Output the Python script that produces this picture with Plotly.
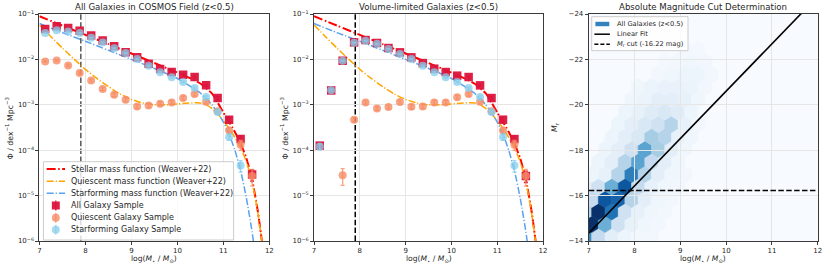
import plotly.graph_objects as go
from plotly.colors import sample_colorscale, sequential

# ---------------------------------------------------------------- data
mass_bins = [7.125, 7.375, 7.625, 7.875, 8.125, 8.375, 8.625, 8.875, 9.125, 9.375,
             9.625, 9.875, 10.125, 10.375, 10.625, 10.875, 11.125, 11.375, 11.625]

# panel 1 : all galaxies in COSMOS (z<0.5)
phi_all_full = [0.0467, 0.0535, 0.0490, 0.0429, 0.0338, 0.0262, 0.0194, 0.0143, 0.0111, 0.00804,
                0.00614, 0.00527, 0.00461, 0.00409, 0.00268, 0.00141, 0.00047, 0.000176, 0.000029]
phi_q_full = [0.00903, 0.0095, 0.00738, 0.0050, 0.00345, 0.00223, 0.00167, 0.00129, 0.00092, 0.00096,
              0.00106, 0.00113, 0.00141, 0.00173, 0.00117, 0.00072, 0.00027, 0.000132, 0.000027]
phi_sf_full = [0.0381, 0.0437, 0.0414, 0.0380, 0.0300, 0.0237, 0.0175, 0.0138, 0.0102, 0.00727,
               0.00519, 0.00402, 0.00318, 0.00234, 0.00148, 0.00069, 0.000195, 0.000046, None]
relerr_all_full = [0.02, 0.02, 0.02, 0.02, 0.02, 0.02, 0.02, 0.02, 0.03, 0.03,
                   0.03, 0.03, 0.04, 0.04, 0.05, 0.07, 0.12, 0.18, 0.28]
relerr_q_full = [0.04, 0.04, 0.05, 0.06, 0.07, 0.08, 0.09, 0.10, 0.10, 0.10,
                 0.10, 0.10, 0.10, 0.10, 0.10, 0.12, 0.18, 0.25, 0.40]
relerr_sf_full = [0.02, 0.02, 0.02, 0.02, 0.02, 0.02, 0.02, 0.03, 0.03, 0.03,
                  0.03, 0.04, 0.04, 0.05, 0.06, 0.08, 0.15, 0.28, None]

# panel 2 : volume-limited sample
phi_all_vol = [0.000126, 0.00207, 0.00935, 0.0237, 0.0267, 0.0230, 0.0178, 0.0143, 0.0111, 0.0083,
               0.00624, 0.00527, 0.00438, 0.00409, 0.00268, 0.00141, 0.00047, 0.000176, 0.000027]
phi_q_vol = [None, None, 0.000028, 0.00047, 0.00113, 0.00083, 0.00089, 0.00115, 0.00091, 0.00092,
             0.00113, 0.00113, 0.00146, 0.00173, 0.00117, 0.00072, 0.00027, 0.000132, 0.000027]
phi_sf_vol = [0.00012, 0.0021, 0.0093, 0.0232, 0.0256, 0.0222, 0.0169, 0.0131, 0.0102, 0.00727,
              0.00519, 0.00402, 0.00318, 0.00234, 0.00148, 0.00069, 0.000195, 0.000046, None]
relerr_all_vol = [0.15, 0.05, 0.03, 0.02, 0.02, 0.02, 0.02, 0.02, 0.03, 0.03,
                  0.03, 0.03, 0.04, 0.04, 0.05, 0.07, 0.12, 0.18, 0.28]
relerr_q_vol = [None, None, 0.40, 0.10, 0.08, 0.09, 0.09, 0.10, 0.10, 0.10,
                0.10, 0.10, 0.10, 0.10, 0.10, 0.12, 0.18, 0.25, 0.40]
relerr_sf_vol = [0.15, 0.05, 0.03, 0.02, 0.02, 0.02, 0.02, 0.03, 0.03, 0.03,
                 0.03, 0.04, 0.04, 0.05, 0.06, 0.08, 0.15, 0.28, None]

# Weaver+22 mass functions (log10 phi)
smf_mass = [7.0, 7.5, 8.0, 8.5, 9.0, 9.5, 10.0, 10.25, 10.5, 10.75, 10.875, 11.0,
            11.125, 11.25, 11.375, 11.5, 11.625, 11.75, 11.85]
smf_logphi = [-1.05, -1.255, -1.46, -1.665, -1.87, -2.08, -2.29, -2.40, -2.53, -2.75, -2.95, -3.17,
              -3.38, -3.60, -3.85, -4.18, -4.65, -5.35, -6.1]
q_mass = [7.0, 7.25, 7.5, 7.75, 8.0, 8.25, 8.5, 8.75, 9.0, 9.25, 9.5, 9.75, 10.0, 10.25, 10.5,
          10.625, 10.75, 10.875, 11.0, 11.125, 11.25, 11.375, 11.5, 11.625, 11.75, 11.85]
q_logphi = [-1.24, -1.50, -1.75, -1.99, -2.22, -2.42, -2.60, -2.76, -2.88, -2.96, -3.0, -3.0, -2.98,
            -2.96, -2.96, -3.0, -3.08, -3.2, -3.35, -3.52, -3.72, -3.95, -4.25, -4.7, -5.38, -6.12]
sf_mass = [7.0, 7.5, 8.0, 8.5, 9.0, 9.5, 10.0, 10.25, 10.5, 10.625, 10.75, 10.875, 11.0,
           11.125, 11.25, 11.375, 11.5, 11.625, 11.68]
sf_logphi = [-1.21, -1.41, -1.60, -1.80, -2.0, -2.2, -2.42, -2.57, -2.74, -2.87, -3.0, -3.18, -3.38,
             -3.65, -4.0, -4.45, -5.05, -5.8, -6.2]

mass_cut = 7.9
mag_cut = -16.22
fit_slope = -2.087          # M_r = fit_intercept + fit_slope * log(M*)
fit_intercept = 0.269
mass_range = [7, 12]
mass_ticks = [7, 8, 9, 10, 11, 12]
phi_exponents = [-6, -5, -4, -3, -2, -1]
mag_ticks = [-24, -22, -20, -18, -16, -14]

# hexbin (panel 3): hex lattice rows, first column index and colour level of each cell
hex_rows = [-2, -1, 0, 1, 2, 3, 4, 5, 6, 7, 8, 9, 10, 11, 12, 13]
hex_first_col = [-1, -1, -1, -1, -1, -1, 0, 0, 1, 1, 2, 2, 3, 4, 5, 6]
hex_levels = [
    [0.65, 0.25, 0.10, 0.05, 0.03, 0.03],
    [1.00, 0.50, 0.20, 0.08, 0.04, 0.03],
    [0.30, 1.00, 0.75, 0.20, 0.08, 0.04, 0.03],
    [0.25, 0.85, 0.80, 0.30, 0.10, 0.04, 0.03],
    [0.10, 0.20, 0.50, 0.85, 0.25, 0.08, 0.04, 0.03],
    [0.05, 0.08, 0.30, 0.70, 0.30, 0.10, 0.04, 0.03],
    [0.05, 0.10, 0.30, 0.55, 0.25, 0.10, 0.04],
    [0.05, 0.10, 0.20, 0.55, 0.35, 0.10, 0.04],
    [0.05, 0.10, 0.15, 0.35, 0.30, 0.08, 0.04],
    [0.05, 0.10, 0.15, 0.20, 0.30, 0.08, 0.03],
    [0.05, 0.08, 0.12, 0.15, 0.12, 0.05],
    [0.04, 0.06, 0.10, 0.10, 0.08, 0.04],
    [0.04, 0.06, 0.07, 0.07, 0.06, 0.03],
    [0.03, 0.04, 0.05, 0.05, 0.03],
    [0.02, 0.03, 0.04, 0.03],
    [0.02, 0.02],
]
hex_dx, hex_row_h = 0.29, 0.55
hex_x0, hex_m0 = 7.21, -15.29

# ---------------------------------------------------------------- style
FIG_W, FIG_H = 830, 268
M_T, M_B = 14, 27
PLOT_H = FIG_H - M_T - M_B
FONT = "DejaVu Sans"
GRID = "#e6e6e6"
SPINE = "#3a3a3a"
TXT = "#262626"
RED, ORANGE, BLUE = "#ff0000", "#ffa500", "#5aa2ee"
SQ_COL = "rgba(220,20,60,0.95)"
Q_COL = "rgba(246,140,100,0.80)"
SF_COL = "rgba(135,206,235,0.75)"
DD_THICK = "9px,2.5px,1.5px,2.5px"
DD_THIN = "7px,2px,1.2px,2px"
DASH = "5.5px,2.4px"

panels_px = [(37.7, 269.3), (314.3, 545.0), (591.0, 821.7)]


def px_x(px):
    return px / FIG_W


def px_y(py):
    return (FIG_H - M_B - py) / PLOT_H


fig = go.Figure()


def add_mf_panel(xa, ya, phi_all, phi_q, phi_sf, e_all, e_q, e_sf):
    fig.add_trace(go.Scatter(x=smf_mass, y=[10 ** v for v in smf_logphi], mode="lines",
                             line=dict(color=RED, width=2, dash=DD_THICK, shape="spline", smoothing=0.6),
                             xaxis=xa, yaxis=ya, hoverinfo="skip"))
    fig.add_trace(go.Scatter(x=q_mass, y=[10 ** v for v in q_logphi], mode="lines",
                             line=dict(color=ORANGE, width=1.5, dash=DD_THIN, shape="spline", smoothing=0.6),
                             xaxis=xa, yaxis=ya, hoverinfo="skip"))
    fig.add_trace(go.Scatter(x=sf_mass, y=[10 ** v for v in sf_logphi], mode="lines",
                             line=dict(color=BLUE, width=1.5, dash=DD_THIN, shape="spline", smoothing=0.6),
                             xaxis=xa, yaxis=ya, hoverinfo="skip"))
    for vals, errs, col, sym, size in ((phi_all, e_all, SQ_COL, "square", 8.5),
                                       (phi_q, e_q, Q_COL, "circle", 8),
                                       (phi_sf, e_sf, SF_COL, "circle", 8)):
        err = [v * e if (v is not None and e is not None) else None for v, e in zip(vals, errs)]
        fig.add_trace(go.Scatter(x=mass_bins, y=vals, mode="markers",
                                 marker=dict(symbol=sym, size=size, color=col, line=dict(width=0)),
                                 error_y=dict(type="data", array=err, color=col, thickness=1.3, width=2),
                                 xaxis=xa, yaxis=ya, hoverinfo="skip"))


add_mf_panel("x", "y", phi_all_full, phi_q_full, phi_sf_full, relerr_all_full, relerr_q_full, relerr_sf_full)
add_mf_panel("x2", "y2", phi_all_vol, phi_q_vol, phi_sf_vol, relerr_all_vol, relerr_q_vol, relerr_sf_vol)

fit_y = [fit_intercept + fit_slope * m for m in mass_range]
fig.add_trace(go.Scatter(x=mass_range, y=fit_y, mode="lines", line=dict(color="black", width=1.6),
                         xaxis="x3", yaxis="y3", hoverinfo="skip"))

# ---------------------------------------------------------------- axes
def xaxis(i, anchor):
    x0, x1 = panels_px[i]
    return dict(domain=[px_x(x0), px_x(x1)], anchor=anchor, range=mass_range,
                tickvals=mass_ticks, ticktext=[str(t) for t in mass_ticks],
                showgrid=True, gridcolor=GRID, gridwidth=1, zeroline=False,
                showline=True, mirror=True, linecolor=SPINE, linewidth=1,
                ticks="outside", ticklen=3, tickwidth=1, tickcolor=SPINE,
                tickfont=dict(family=FONT, size=7, color=TXT))


def yaxis_log(anchor):
    return dict(domain=[0, 1], anchor=anchor, type="log", range=[-6, -1],
                tickvals=[10.0 ** e for e in phi_exponents],
                ticktext=["10<sup>\u2212%d</sup>" % (-e) for e in phi_exponents],
                showgrid=True, gridcolor=GRID, gridwidth=1, zeroline=False,
                showline=True, mirror=True, linecolor=SPINE, linewidth=1,
                ticks="outside", ticklen=3, tickwidth=1, tickcolor=SPINE,
                tickfont=dict(family=FONT, size=7, color=TXT))


layout = dict(
    width=FIG_W, height=FIG_H, margin=dict(l=0, r=0, t=M_T, b=M_B),
    paper_bgcolor="white", plot_bgcolor="white", showlegend=False,
    font=dict(family=FONT, color=TXT),
    xaxis=xaxis(0, "y"), yaxis=yaxis_log("x"),
    xaxis2=xaxis(1, "y2"), yaxis2=yaxis_log("x2"),
    xaxis3=xaxis(2, "y3"),
    yaxis3=dict(domain=[0, 1], anchor="x3", range=[-14, -24],
                tickvals=mag_ticks, ticktext=["\u2212%d" % (-t) for t in mag_ticks],
                showgrid=True, gridcolor=GRID, gridwidth=1, zeroline=False,
                showline=True, mirror=True, linecolor=SPINE, linewidth=1,
                ticks="outside", ticklen=3, tickwidth=1, tickcolor=SPINE,
                tickfont=dict(family=FONT, size=7, color=TXT),
                title=dict(text="<i>M</i><sub>r</sub>", standoff=9,
                           font=dict(family=FONT, size=7.8, color=TXT))),
)

shapes = []
# hexbin background and cells
shapes.append(dict(type="rect", xref="x3 domain", yref="y3 domain", x0=0, x1=1, y0=0, y1=1,
                   fillcolor="#f7fbff", line=dict(width=0), layer="below"))
unit = [(0.5, -0.5), (0.5, 0.5), (0, 1), (-0.5, 0.5), (-0.5, -0.5), (0, -1)]
for j, c0, levels in zip(hex_rows, hex_first_col, hex_levels):
    for k, lev in enumerate(levels):
        cx = hex_x0 + hex_dx * (c0 + k + 0.5 * (j % 2))
        cy = hex_m0 - hex_row_h * j
        pts = [(cx + hex_dx * ux, cy + (2 * hex_row_h / 3) * uy) for ux, uy in unit]
        path = "M " + " L ".join("%.4f,%.4f" % p for p in pts) + " Z"
        col = sample_colorscale(sequential.Blues, [lev])[0]
        shapes.append(dict(type="path", xref="x3", yref="y3", path=path, fillcolor=col,
                           line=dict(color=col, width=0.6), layer="below"))

# cut lines
shapes.append(dict(type="line", xref="x", yref="y domain", x0=mass_cut, x1=mass_cut, y0=0, y1=1,
                   line=dict(color="#555555", width=1.5, dash=DASH), layer="below"))
shapes.append(dict(type="line", xref="x2", yref="y2 domain", x0=mass_cut, x1=mass_cut, y0=0, y1=1,
                   line=dict(color="black", width=1.5, dash=DASH), layer="below"))
shapes.append(dict(type="line", xref="x3 domain", yref="y3", x0=0, x1=1, y0=mag_cut, y1=mag_cut,
                   line=dict(color="black", width=1.5, dash=DASH), layer="above"))

annotations = []
titles = ["All Galaxies in COSMOS Field (z&lt;0.5)", "Volume-limited Galaxies (z&lt;0.5)",
          "Absolute Magnitude Cut Determination"]
xlab = "log(<i>M</i><sub>\u22c6</sub> / <i>M</i><sub>\u2299</sub>)"
ylab_phi = "\u03a6 / dex<sup>\u22121</sup> Mpc<sup>\u22123</sup>"
ylab_px = [7.0, 284.0]
for i, (x0, x1) in enumerate(panels_px):
    cxp = px_x((x0 + x1) / 2)
    annotations.append(dict(text=titles[i], x=cxp, y=px_y(7), xref="paper", yref="paper",
                            showarrow=False, xanchor="center", yanchor="middle",
                            font=dict(family=FONT, size=8.6, color=TXT)))
    annotations.append(dict(text=xlab, x=cxp, y=px_y(258.5), xref="paper", yref="paper",
                            showarrow=False, xanchor="center", yanchor="middle",
                            font=dict(family=FONT, size=7.6, color=TXT)))
for xp in ylab_px:
    annotations.append(dict(text=ylab_phi, x=px_x(xp), y=0.5, xref="paper", yref="paper",
                            showarrow=False, xanchor="center", yanchor="middle", textangle=-90,
                            font=dict(family=FONT, size=7.8, color=TXT)))

# ---- panel 1 legend (drawn by hand to reproduce the compact matplotlib legend)
shapes.append(dict(type="rect", xref="paper", yref="paper", x0=px_x(41.7), x1=px_x(233.3),
                   y0=px_y(240.0), y1=px_y(161.7), fillcolor="rgba(255,255,255,0.8)",
                   line=dict(color="#cccccc", width=1), layer="above"))
leg1_text = ["Stellar mass function (Weaver+22)", "Quiescent mass function (Weaver+22)",
             "Starforming mass function (Weaver+22)", "All Galaxy Sample",
             "Quiescent Galaxy Sample", "Starforming Galaxy Sample"]
leg1_rows = [169.0, 181.2, 193.3, 205.5, 217.7, 229.8]
leg1_lines = [(RED, 2, DD_THICK), (ORANGE, 1.5, DD_THIN), (BLUE, 1.5, DD_THIN)]
leg1_marks = [(SQ_COL, "rect"), (Q_COL, "circle"), (SF_COL, "circle")]
for k, (txt, ry) in enumerate(zip(leg1_text, leg1_rows)):
    annotations.append(dict(text=txt, x=px_x(67.5), y=px_y(ry), xref="paper", yref="paper",
                            showarrow=False, xanchor="left", yanchor="middle",
                            font=dict(family=FONT, size=8.0, color=TXT)))
    if k < 3:
        c, w, d = leg1_lines[k]
        shapes.append(dict(type="line", xref="paper", yref="paper", x0=px_x(45), x1=px_x(63.5),
                           y0=px_y(ry), y1=px_y(ry), line=dict(color=c, width=w, dash=d), layer="above"))
    else:
        c, kind = leg1_marks[k - 3]
        cxp, cyp = px_x(54.2), px_y(ry)
        shapes.append(dict(type="line", xref="paper", yref="paper",
                           x0=cxp, x1=cxp, y0=cyp - 5.0 / PLOT_H, y1=cyp + 5.0 / PLOT_H,
                           line=dict(color=c, width=1.3), layer="above"))
        shapes.append(dict(type=kind, xref="paper", yref="paper",
                           x0=cxp - 4.0 / FIG_W, x1=cxp + 4.0 / FIG_W,
                           y0=cyp - 4.0 / PLOT_H, y1=cyp + 4.0 / PLOT_H,
                           fillcolor=c, line=dict(width=0), layer="above"))

# ---- panel 3 legend
shapes.append(dict(type="rect", xref="paper", yref="paper", x0=px_x(594), x1=px_x(691),
                   y0=px_y(50.7), y1=px_y(16.7), fillcolor="rgba(255,255,255,0.8)",
                   line=dict(color="#cccccc", width=1), layer="above"))
leg3_text = ["All Galaxies (z&lt;0.5)", "Linear Fit", "<i>M</i><sub>r</sub> cut (-16.22 mag)"]
leg3_rows = [24.0, 34.2, 44.3]
for k, (txt, ry) in enumerate(zip(leg3_text, leg3_rows)):
    annotations.append(dict(text=txt, x=px_x(617), y=px_y(ry), xref="paper", yref="paper",
                            showarrow=False, xanchor="left", yanchor="middle",
                            font=dict(family=FONT, size=6.7, color=TXT)))
shapes.append(dict(type="rect", xref="paper", yref="paper", x0=px_x(597.7), x1=px_x(611.7),
                   y0=px_y(leg3_rows[0] + 2.2), y1=px_y(leg3_rows[0] - 2.2),
                   fillcolor="#3182bd", line=dict(width=0), layer="above"))
shapes.append(dict(type="line", xref="paper", yref="paper", x0=px_x(596.7), x1=px_x(612.3),
                   y0=px_y(leg3_rows[1]), y1=px_y(leg3_rows[1]), line=dict(color="black", width=1.5),
                   layer="above"))
shapes.append(dict(type="line", xref="paper", yref="paper", x0=px_x(596.7), x1=px_x(612.3),
                   y0=px_y(leg3_rows[2]), y1=px_y(leg3_rows[2]),
                   line=dict(color="black", width=1.5, dash="4px,2px"), layer="above"))

layout["shapes"] = shapes
layout["annotations"] = annotations
fig.update_layout(**layout)
# remove the browser's default 8px page margin so the figure sits at the window origin
fig.write_html("out.html", config={"displayModeBar": False, "staticPlot": True},
               post_script="document.body.style.margin='0px';")
